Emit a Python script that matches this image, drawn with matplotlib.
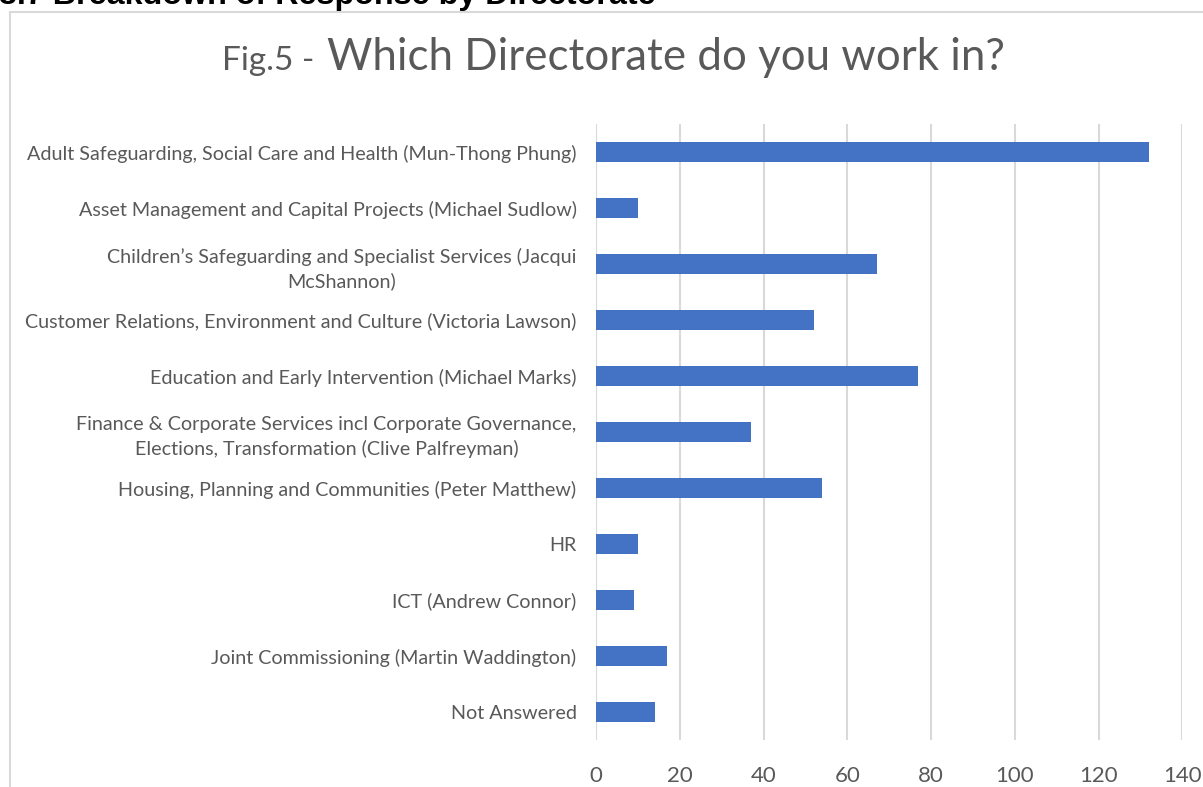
import matplotlib.pyplot as plt
from matplotlib.patches import Rectangle

# Responses per directorate (top to bottom as listed in the survey)
directorates = [
    "Adult Safeguarding, Social Care and Health (Mun-Thong Phung)",
    "Asset Management and Capital Projects (Michael Sudlow)",
    "Children\u2019s Safeguarding and Specialist Services (Jacqui\nMcShannon)",
    "Customer Relations, Environment and Culture (Victoria Lawson)",
    "Education and Early Intervention (Michael Marks)",
    "Finance & Corporate Services incl Corporate Governance,\nElections, Transformation (Clive Palfreyman)",
    "Housing, Planning and Communities (Peter Matthew)",
    "HR",
    "ICT (Andrew Connor)",
    "Joint Commissioning (Martin Waddington)",
    "Not Answered",
]
responses = [132, 10, 67, 52, 77, 37, 54, 10, 9, 17, 14]
x_ticks = [0, 20, 40, 60, 80, 100, 120, 140]

text_grey = "#595959"
grid_grey = "#d9d9d9"
bar_blue = "#4472c4"

fig = plt.figure(figsize=(12.03, 7.87), dpi=100)
W, H = 1203, 787

# chart frame, running off the right and bottom of the page
fig.add_artist(Rectangle((10 / W, -0.05), 1.2, 1 - 12 / H + 0.05,
                         transform=fig.transFigure, fill=False,
                         edgecolor=grid_grey, linewidth=1.5))

# section heading, clipped by the top of the page
fig.text(-1 / W, 1 - 4 / H, "3.7 Breakdown of Response by Directorate",
         fontfamily="Liberation Sans", fontweight="bold", fontsize=23.2,
         color="black", ha="left", va="baseline")

# title in two sizes
fig.text(222 / W, 1 - 70 / H, "Fig.5 - ", fontfamily="Lato",
         fontsize=24, color=text_grey, ha="left", va="baseline")
fig.text(327 / W, 1 - 70 / H, "Which Directorate do you work in?",
         fontfamily="Lato", fontsize=31.6, color=text_grey,
         ha="left", va="baseline")

ax = fig.add_axes([596 / W, 1 - 740 / H, (1182.3 - 596) / W, (740 - 124) / H])
y = list(range(len(directorates)))
ax.barh(y, responses, height=0.36, color=bar_blue, zorder=3)
ax.set_ylim(len(directorates) - 0.5, -0.5)
ax.set_xlim(0, 140)
ax.set_xticks(x_ticks)
ax.set_yticks(y)
ax.set_yticklabels(directorates, fontfamily="Lato", fontsize=14.2,
                   color=text_grey, multialignment="center", linespacing=1.45)
ax.tick_params(axis="y", length=0, pad=14)
ax.tick_params(axis="x", length=0, pad=19, labelsize=16, labelcolor=text_grey)
for lbl in ax.get_xticklabels():
    lbl.set_fontfamily("Lato")
ax.grid(axis="x", color=grid_grey, linewidth=1.5, zorder=0)
for s in ax.spines.values():
    s.set_visible(False)

fig.savefig("out.png", dpi=100)
